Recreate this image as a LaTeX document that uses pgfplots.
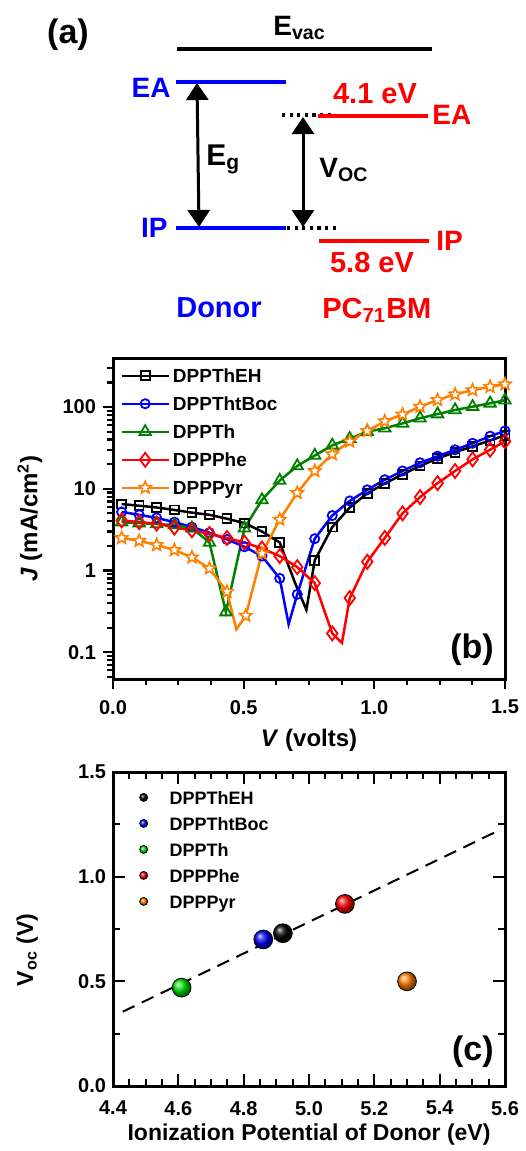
\documentclass[border=0pt]{standalone}
\usepackage{fontspec}
\setmainfont{Liberation Sans}
\usepackage{pgfplots}
\pgfplotsset{compat=1.18}
\usetikzlibrary{arrows.meta,plotmarks}

\definecolor{cblue}{RGB}{0,0,255}
\definecolor{cred}{RGB}{255,0,0}
\definecolor{cgreen}{RGB}{0,128,0}
\definecolor{corange}{RGB}{255,128,0}
\definecolor{bgreen}{RGB}{0,230,0}
\definecolor{borange}{RGB}{255,125,0}

\newcommand{\fs}[1]{\fontsize{#1}{#1}\selectfont}

% open five-pointed star
\pgfdeclareplotmark{ostar}{%
  \pgfpathmoveto{\pgfqpointpolar{90}{\pgfplotmarksize}}%
  \pgfpathlineto{\pgfqpointpolar{126}{0.45\pgfplotmarksize}}%
  \pgfpathlineto{\pgfqpointpolar{162}{\pgfplotmarksize}}%
  \pgfpathlineto{\pgfqpointpolar{198}{0.45\pgfplotmarksize}}%
  \pgfpathlineto{\pgfqpointpolar{234}{\pgfplotmarksize}}%
  \pgfpathlineto{\pgfqpointpolar{270}{0.45\pgfplotmarksize}}%
  \pgfpathlineto{\pgfqpointpolar{306}{\pgfplotmarksize}}%
  \pgfpathlineto{\pgfqpointpolar{342}{0.45\pgfplotmarksize}}%
  \pgfpathlineto{\pgfqpointpolar{18}{\pgfplotmarksize}}%
  \pgfpathlineto{\pgfqpointpolar{54}{0.45\pgfplotmarksize}}%
  \pgfpathclose
  \pgfusepathqfillstroke
}

\pgfplotsset{
  sqstyle/.style={black, line width=1.25pt, mark=square, mark size=2.2pt, mark options={fill=white, line width=0.9pt}},
  cistyle/.style={cblue, line width=1.25pt, mark=o, mark size=2.3pt, mark options={fill=white, line width=0.9pt}},
  tristyle/.style={cgreen, line width=1.25pt, mark=triangle, mark size=3.3pt, mark options={fill=white, line width=0.9pt}},
  distyle/.style={cred, line width=1.25pt, mark=diamond, mark size=3.5pt, mark options={fill=white, line width=0.9pt}},
  ststyle/.style={corange, line width=1.25pt, mark=ostar, mark size=3.2pt, mark options={fill=white, line width=0.8pt}},
}

\begin{document}
\bfseries
\begin{tikzpicture}
\useasboundingbox (0,0) rectangle (262.5pt,-575.5pt);

%% (a) energy levels, drawn in pixel units of the reference
\begin{scope}[x=0.5pt,y=-0.5pt]
  \node[font=\fs{17}] at (68,35) {(a)};
  \draw[line width=2pt] (177,49) -- (432,49);
  \node[font=\fs{14}, anchor=base west, inner sep=0pt] at (273,35) {E\textsubscript{vac}};

  \draw[cblue, line width=1.8pt] (176,82) -- (286,82);
  \draw[cblue, line width=1.8pt] (176,228) -- (286,228);
  \node[cblue, font=\fs{14}, anchor=east, inner sep=0pt] at (171,88) {EA};
  \node[cblue, font=\fs{14}, anchor=east, inner sep=0pt] at (168,228) {IP};

  \draw[line width=1.5pt, {Triangle[width=11pt,length=8.5pt]}-{Triangle[width=11pt,length=8.5pt]}] (197,83) -- (199,227);
  \node[font=\fs{15}, anchor=base west, inner sep=0pt] at (206,165) {E\textsubscript{g}};

  \draw[line width=1.6pt, dash pattern=on 1.6pt off 2.2pt] (282,115) -- (334,115);
  \draw[line width=1.6pt, dash pattern=on 1.6pt off 2.2pt] (287,228) -- (339,228);
  \draw[line width=1.5pt, {Triangle[width=11pt,length=8.5pt]}-{Triangle[width=11pt,length=8.5pt]}] (303,117) -- (303,227);
  \node[font=\fs{14}, anchor=base west, inner sep=0pt] at (319,177) {V\textsubscript{OC}};

  \draw[cred, line width=1.8pt] (318,116) -- (428,116);
  \draw[cred, line width=1.8pt] (319,241) -- (429,241);
  \node[cred, font=\fs{14.5}] at (375,94) {4.1 eV};
  \node[cred, font=\fs{14.5}] at (372,263) {5.8 eV};
  \node[cred, font=\fs{14}, anchor=west, inner sep=0pt] at (432,115) {EA};
  \node[cred, font=\fs{14}, anchor=west, inner sep=0pt] at (436,241) {IP};

  \node[cblue, font=\fs{14.5}] at (219,308) {Donor};
  \node[cred, font=\fs{14.5}, anchor=base west, inner sep=0pt] at (322,318) {PC\textsubscript{71}BM};
\end{scope}

%% (b) J-V curves
\begin{axis}[
  at={(56.5pt,-339.5pt)}, anchor=south west,
  scale only axis, width=196pt, height=160.5pt,
  xmin=0, xmax=1.5, ymode=log, ymin=0.047, ymax=398,
  log ticks with fixed point,
  xtick={0,0.5,1,1.5}, minor x tick num=3,
  xticklabel style={yshift=-2pt, /pgf/number format/.cd, fixed, fixed zerofill, precision=1},
  /pgf/number format/assume math mode=true,
  tick pos=left, tick align=outside,
  tick label style={font=\fs{10}},
  axis line style={line width=1.5pt},
  every tick/.style={black, line width=1.1pt},
  major tick length=5pt, minor tick length=3pt,
  xlabel={\textit{V} (volts)},
  ylabel={\textit{J} (mA/cm\textsuperscript{2})},
  label style={font=\fs{12}},
  xlabel style={at={(axis description cs:0.5,-0.19)}, anchor=center},
  ylabel style={at={(axis description cs:-0.212,0.5)}, anchor=center},
  legend cell align=left,
  legend style={at={(axis description cs:0.018,0.974)}, anchor=north west,
    draw=none, fill=none, font=\fs{9.5}, inner sep=0pt, row sep=5pt, column sep=1.5pt,
    nodes={inner sep=0pt, text height=8pt, text depth=1pt}},
  legend image code/.code={\draw[mark repeat=2,mark phase=2] plot coordinates {(0pt,0pt)(11.75pt,0pt)(23.5pt,0pt)};},
]
\addplot[sqstyle, forget plot,
  mark indices={1,2,3,4,5,6,7,8,9,10,13,14,15,16,17,18,19,20,21,22,23,24}]
coordinates {
(0.033,6.5)(0.100,6.2)(0.167,5.9)(0.235,5.5)(0.302,5.1)(0.369,4.8)
(0.436,4.3)(0.503,3.8)(0.570,3.0)(0.638,2.2)(0.697,0.70)(0.740,0.33)
(0.772,1.33)(0.839,3.4)(0.906,5.9)(0.973,8.8)(1.040,11.6)(1.108,15)
(1.175,19)(1.242,23.5)(1.309,28)(1.376,33)(1.443,39)(1.500,45)};

\addplot[cistyle, forget plot,
  mark indices={1,2,3,4,5,6,7,8,9,10,12,13,14,15,16,17,18,19,20,21,22,23,24}]
coordinates {
(0.033,5.2)(0.100,4.8)(0.167,4.4)(0.235,3.9)(0.302,3.4)(0.369,2.9)
(0.436,2.4)(0.503,1.95)(0.570,1.5)(0.638,0.80)(0.672,0.22)(0.705,0.51)
(0.772,2.45)(0.839,4.7)(0.906,7.1)(0.973,9.7)(1.040,12.9)(1.108,16.5)
(1.175,20.8)(1.242,25)(1.309,30)(1.376,36)(1.443,44)(1.500,51)};

\addplot[tristyle, forget plot]
coordinates {
(0.033,3.9)(0.100,3.8)(0.167,3.7)(0.235,3.6)(0.302,3.3)(0.369,2.2)
(0.432,0.31)(0.503,3.3)(0.570,7.3)(0.638,12.6)(0.705,19)(0.772,25.5)
(0.839,34)(0.906,41)(0.973,50)(1.040,55)(1.108,63)(1.175,73)
(1.242,82)(1.309,92)(1.376,101)(1.443,111)(1.500,121)};

\addplot[distyle, forget plot,
  mark indices={1,2,3,4,5,6,7,8,9,10,11,12,13,15,16,17,18,19,20,21,22,23,24}]
coordinates {
(0.033,4.1)(0.100,3.9)(0.167,3.75)(0.235,3.35)(0.302,3.1)(0.369,2.8)
(0.436,2.5)(0.503,2.2)(0.570,1.86)(0.638,1.5)(0.705,1.1)(0.772,0.70)
(0.839,0.17)(0.876,0.13)(0.906,0.46)(0.973,1.28)(1.040,2.5)(1.108,5.0)
(1.175,7.9)(1.242,11.7)(1.309,16.5)(1.376,22.9)(1.443,30)(1.500,38)};

\addplot[ststyle, forget plot,
  mark indices={1,2,3,4,5,6,7,9,10,11,12,13,14,15,16,17,18,19,20,21,22,23,24}]
coordinates {
(0.033,2.5)(0.100,2.3)(0.167,2.05)(0.235,1.78)(0.302,1.45)(0.369,1.06)
(0.436,0.55)(0.472,0.19)(0.508,0.28)(0.570,1.62)(0.638,4.2)(0.705,8.9)
(0.772,16.5)(0.839,26.5)(0.906,38)(0.973,51)(1.040,67)(1.108,81)
(1.175,101)(1.242,122)(1.309,143)(1.376,161)(1.443,177)(1.500,190)};

\addlegendimage{sqstyle}\addlegendentry{DPPThEH}
\addlegendimage{cistyle}\addlegendentry{DPPThtBoc}
\addlegendimage{tristyle}\addlegendentry{DPPTh}
\addlegendimage{distyle}\addlegendentry{DPPPhe}
\addlegendimage{ststyle}\addlegendentry{DPPPyr}

\node[font=\fs{17}] at (axis description cs:0.916,0.09) {(b)};
\end{axis}

%% (c) Voc vs ionization potential
\begin{axis}[
  at={(56.5pt,-543pt)}, anchor=south west,
  scale only axis, width=196pt, height=157pt,
  xmin=4.4, xmax=5.6, ymin=0, ymax=1.5,
  xtick={4.4,4.6,4.8,5.0,5.2,5.4,5.6}, minor x tick num=3,
  ytick={0,0.5,1.0,1.5}, minor y tick num=1,
  xticklabel style={yshift=-4pt, /pgf/number format/.cd, fixed, fixed zerofill, precision=1},
  yticklabel style={/pgf/number format/.cd, fixed, fixed zerofill, precision=1},
  /pgf/number format/assume math mode=true,
  tick pos=both, tick align=inside,
  tick label style={font=\fs{10}},
  axis line style={line width=1.5pt},
  every tick/.style={black, line width=1.1pt},
  major tick length=6pt, minor tick length=3.5pt,
  xlabel={Ionization Potential of Donor (eV)},
  ylabel={V\textsubscript{oc} (V)},
  label style={font=\fs{11.5}},
  xlabel style={at={(axis description cs:0.5,-0.155)}, anchor=center},
  ylabel style={at={(axis description cs:-0.219,0.433)}, anchor=center},
  legend cell align=left,
  legend style={at={(axis description cs:0.066,0.949)}, anchor=north west,
    draw=none, fill=none, font=\fs{9}, inner sep=0pt, row sep=4pt,
    nodes={inner sep=0pt, text height=8pt, text depth=1pt}},
  legend image post style={mark size=2pt},
  legend image code/.code={\draw plot coordinates {(0pt,0pt)}; \path[draw=none,fill=none] (-2pt,0pt) -- (13pt,0pt);},
]
\addplot[forget plot, black, line width=1pt, dash pattern=on 6.5pt off 4pt]
  coordinates {(4.43,0.355) (5.58,1.22)};
\addplot[only marks, mark=ball, ball color=black, mark size=4.7pt] coordinates {(4.92,0.73)};
\addlegendentry{DPPThEH}
\addplot[only marks, mark=ball, ball color=cblue, mark size=4.7pt] coordinates {(4.86,0.70)};
\addlegendentry{DPPThtBoc}
\addplot[only marks, mark=ball, ball color=bgreen, mark size=4.7pt] coordinates {(4.61,0.47)};
\addlegendentry{DPPTh}
\addplot[only marks, mark=ball, ball color=cred, mark size=4.7pt] coordinates {(5.11,0.87)};
\addlegendentry{DPPPhe}
\addplot[only marks, mark=ball, ball color=borange, mark size=4.7pt] coordinates {(5.30,0.50)};
\addlegendentry{DPPPyr}

\node[font=\fs{17}] at (axis description cs:0.918,0.108) {(c)};
\end{axis}
\end{tikzpicture}
\end{document}
